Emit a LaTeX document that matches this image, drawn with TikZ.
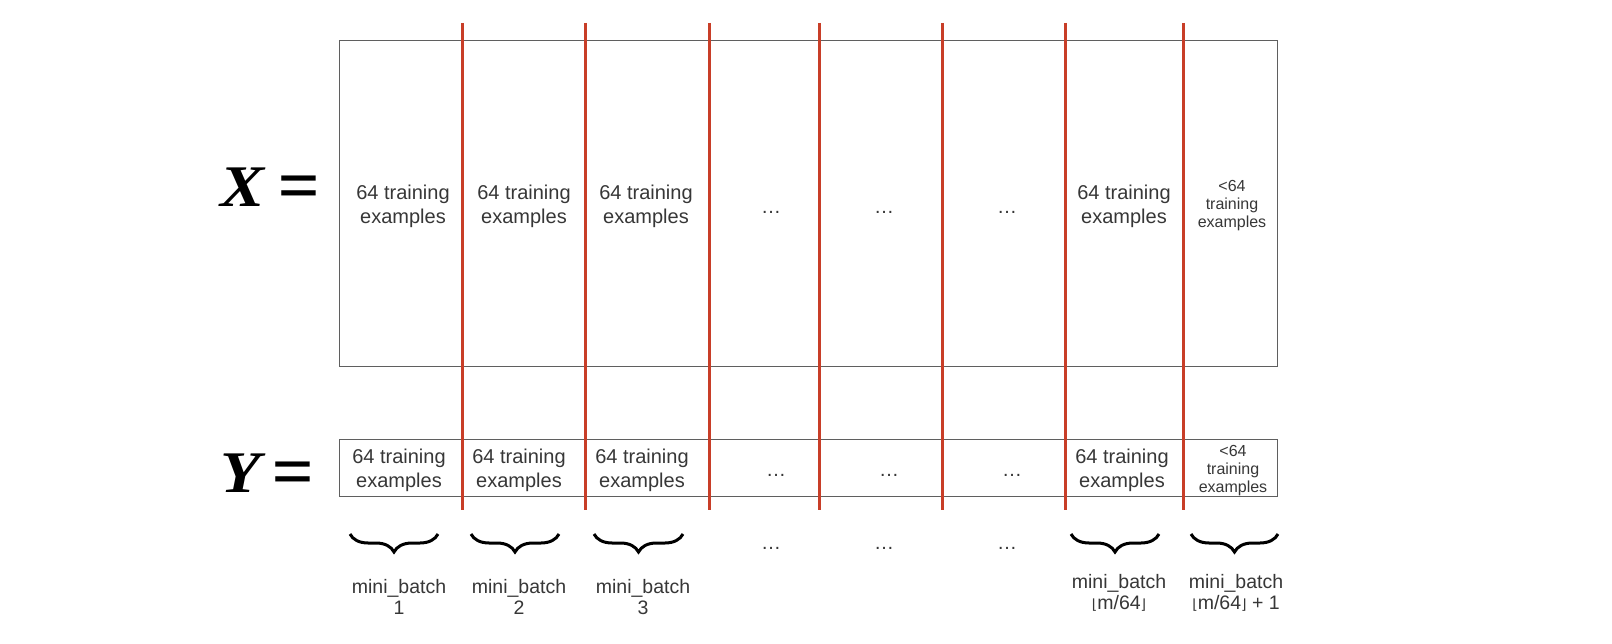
\documentclass[tikz,border=0pt]{standalone}
\usepackage{fontspec}
\setmainfont{Liberation Sans}
\newfontfamily\serifX{Liberation Serif}[FakeStretch=1.12]
\newfontfamily\serifEq{Liberation Serif}
\newfontfamily\djv{DejaVu Sans}
\usetikzlibrary{decorations.pathreplacing}
\definecolor{redline}{RGB}{200,62,40}
\definecolor{boxgray}{RGB}{95,95,95}
\definecolor{txt}{RGB}{55,55,55}
\tikzset{
  matbox/.style={draw=boxgray, line width=1.2pt, minimum width=938pt, anchor=north west, inner sep=0pt},
  sepline/.style={draw=redline, line width=3pt},
  cell/.style={font=\fontsize{20}{24}\selectfont, text=txt, align=center, inner sep=0pt},
  smallcell/.style={font=\fontsize{16}{18}\selectfont, text=txt, align=center, inner sep=0pt},
  dotsnode/.style={font=\fontsize{20}{24}\selectfont, text=txt, inner sep=0pt},
  lbl/.style={font=\fontsize{19.5}{21}\selectfont, text=txt, align=center, inner sep=0pt},
  mathlbl/.style={font=\serifX\fontsize{59}{60}\selectfont, inner sep=0pt, anchor=base west},
  bracestyle/.style={decorate, decoration={brace, mirror, amplitude=18pt}, line width=3pt},
}
\newcommand{\flL}{{\djv\fontsize{14}{14}\selectfont ⌊}}
\newcommand{\flR}{{\djv\fontsize{14}{14}\selectfont ⌋}}
\newcommand{\bigeq}{{\serifEq\fontsize{74}{74}\selectfont\raisebox{-4pt}{=}}}
\begin{document}
\begin{tikzpicture}[x=1pt,y=-1pt]
\useasboundingbox[fill=white] (0,0) rectangle (1612,644);
% matrices
\node[matbox, minimum height=326pt] (xbox) at (339,40) {};
\node[matbox, minimum height=57pt] (ybox) at (339,439) {};
% labels
\node[mathlbl] (xlab) at (220,207) {\bfseries\itshape X\hspace{13pt}\bigeq};
\node[mathlbl] (ylab) at (220,492) {\bfseries\itshape Y\hspace{11pt}\bigeq};
% separators
\foreach \x [count=\i] in {462,585,709,819,942,1065,1183}{
  \coordinate (t\i) at (\x,23);
  \coordinate (b\i) at (\x,510);
  \draw[sepline] (t\i) -- (b\i);
}
% X row
\node[cell] (x1) at (403,206) {64 training\\examples};
\node[cell] (x2) at (524,206) {64 training\\examples};
\node[cell] (x3) at (646,206) {64 training\\examples};
\node[dotsnode] (x4) at (771,212) {\dots};
\node[dotsnode] (x5) at (884,212) {\dots};
\node[dotsnode] (x6) at (1007,212) {\dots};
\node[cell] (x7) at (1124,206) {64 training\\examples};
\node[smallcell] (x8) at (1232,206) {<64\\training\\examples};
% Y row
\node[cell] (y1) at (399,470) {64 training\\examples};
\node[cell] (y2) at (519,470) {64 training\\examples};
\node[cell] (y3) at (642,470) {64 training\\examples};
\node[dotsnode] (y4) at (776,475) {\dots};
\node[dotsnode] (y5) at (889,475) {\dots};
\node[dotsnode] (y6) at (1012,475) {\dots};
\node[cell] (y7) at (1122,470) {64 training\\examples};
\node[smallcell] (y8) at (1233,471) {<64\\training\\examples};
% braces
\foreach \a/\b [count=\i] in {350/438,471/559,594/683,1071/1159,1191/1278}{
  \coordinate (bl\i) at (\a,534);
  \coordinate (br\i) at (\b,534);
  \draw[bracestyle] (bl\i) -- (br\i);
}
\node[dotsnode] (d4) at (771,548) {\dots};
\node[dotsnode] (d5) at (884,548) {\dots};
\node[dotsnode] (d6) at (1007,548) {\dots};
% mini batch labels
\node[lbl] (m1) at (399,597) {mini\_batch\\1};
\node[lbl] (m2) at (519,597) {mini\_batch\\2};
\node[lbl] (m3) at (643,597) {mini\_batch\\3};
\node[lbl] (m4) at (1119,593) {mini\_batch\\\flL m/64\flR};
\node[lbl] (m5) at (1236,593) {mini\_batch\\\flL m/64\flR{} + 1};
\end{tikzpicture}
\end{document}
